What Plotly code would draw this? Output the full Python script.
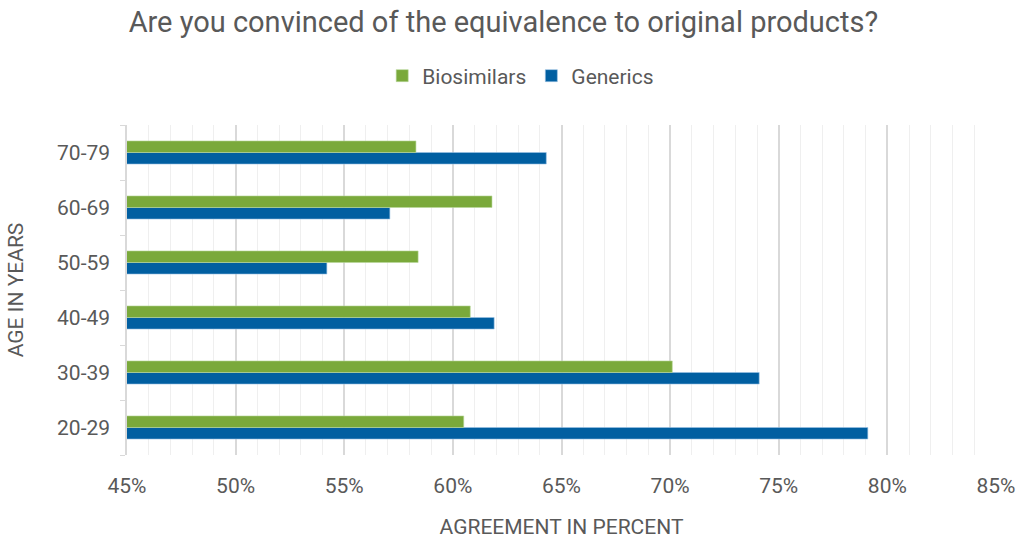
import plotly.graph_objects as go

categories = ["20-29", "30-39", "40-49", "50-59", "60-69", "70-79"]
biosimilars = [60.5, 70.1, 60.8, 58.4, 61.8, 58.3]
generics = [79.1, 74.1, 61.9, 54.2, 57.1, 64.3]
x_ticks = [45, 50, 55, 60, 65, 70, 75, 80, 85]
x_tick_labels = [f"{v}%" for v in x_ticks]

GREEN = "#7AA93B"
BLUE = "#015FA1"
TXT = "#595959"

fig = go.Figure()
fig.add_trace(go.Bar(
    y=categories, x=generics, name="Generics", orientation="h",
    marker=dict(color=BLUE, line=dict(color="#9CC3E4", width=0.6)),
    legendrank=2,
))
fig.add_trace(go.Bar(
    y=categories, x=biosimilars, name="Biosimilars", orientation="h",
    marker=dict(color=GREEN, line=dict(color="#B9D79A", width=0.6)),
    legendrank=1,
))

fig.update_layout(
    width=1017, height=541,
    margin=dict(l=127, r=21, t=125, b=86),
    paper_bgcolor="white", plot_bgcolor="white",
    font=dict(family="Roboto", color=TXT, size=20),
    barmode="group", bargap=0.58, bargroupgap=0,
    title=dict(text="Are you convinced of the equivalence to original products?",
               x=0.495, xanchor="center", y=1 - 22 / 541, yanchor="middle",
               font=dict(size=29, color=TXT, family="Roboto")),
    legend=dict(orientation="h", xref="container", x=0.512, xanchor="center",
                yref="container", y=1 - 76 / 541, yanchor="middle",
                font=dict(size=21, color=TXT), itemwidth=30,
                traceorder="normal"),
    xaxis=dict(
        range=[45, 85], tickvals=x_ticks, ticktext=x_tick_labels,
        showgrid=True, gridcolor="#D9D9D9", gridwidth=1.5,
        minor=dict(dtick=1, showgrid=True, gridcolor="#EFEFEF", gridwidth=1),
        zeroline=False, showline=False, ticks="",
        ticklabelstandoff=16, automargin=False,
        tickfont=dict(size=21, color=TXT),
        title=dict(text="AGREEMENT IN PERCENT", standoff=22,
                   font=dict(size=21, color=TXT)),
    ),
    yaxis=dict(
        categoryorder="array", categoryarray=categories,
        tickson="boundaries", ticks="outside", ticklen=5, tickcolor="#D9D9D9",
        showline=True, linecolor="#D9D9D9", linewidth=1.5,
        showgrid=False, ticklabelstandoff=11, automargin=False,
        tickfont=dict(size=21, color=TXT),
        title=dict(text="AGE IN YEARS", standoff=28,
                   font=dict(size=21, color=TXT)),
    ),
)

fig.write_html("out.html")
